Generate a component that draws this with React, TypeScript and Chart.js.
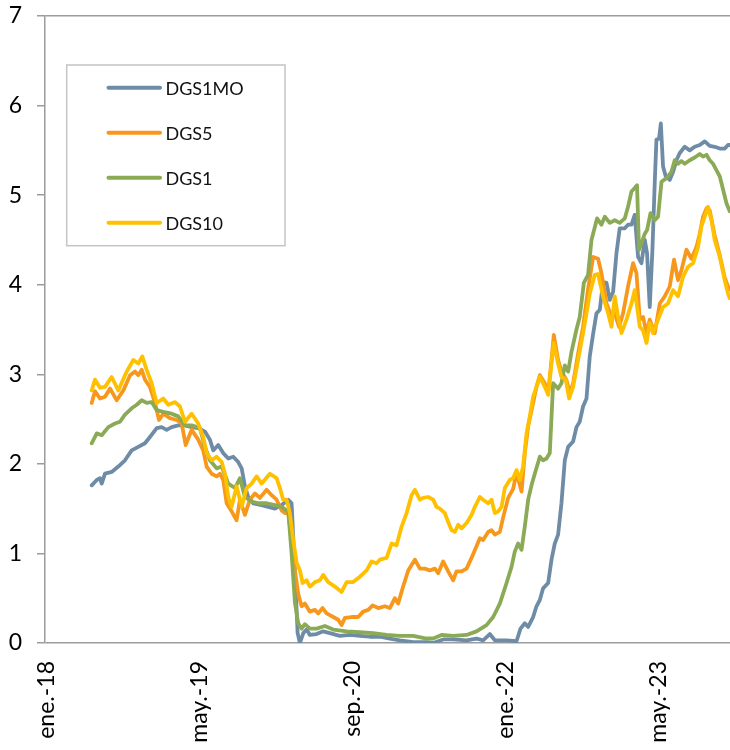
import React, { useEffect, useRef } from "react";
import { Chart, registerables } from "chart.js";

Chart.register(...registerables);

// x values: months elapsed since January 2018 (0 = ene.-18)
const TICK_MONTHS = [0, 16, 32, 48, 64];
const TICK_LABELS = ["ene.-18", "may.-19", "sep.-20", "ene.-22", "may.-23"];
const X_MIN = -0.16;
const X_MAX = 71.45;

const SERIES_LABELS = ["DGS1MO", "DGS5", "DGS1", "DGS10"];
const SERIES_COLORS = ["#6F8CA7", "#F7981D", "#8BAA55", "#FFC000"];

const DGS1MO: [number, number][] = [
  [4.72, 1.76], [5.25, 1.82], [5.59, 1.84], [5.77, 1.78], [6.11, 1.89], [6.81, 1.91], [7.5, 1.97], [8.2, 2.04],
  [8.9, 2.15], [9.59, 2.19], [10.29, 2.23], [10.81, 2.3], [11.52, 2.4], [12.04, 2.41], [12.56, 2.38], [13.08, 2.41],
  [13.77, 2.43], [14.47, 2.43], [15.17, 2.41], [15.86, 2.4], [16.56, 2.36], [17.08, 2.27], [17.43, 2.15], [17.95, 2.21],
  [18.47, 2.12], [19.0, 2.06], [19.52, 2.08], [20.04, 2.02], [20.4, 1.95], [20.74, 1.75], [21.09, 1.63], [21.61, 1.56],
  [22.49, 1.54], [23.18, 1.52], [23.88, 1.5], [24.58, 1.54], [25.27, 1.6], [25.62, 1.56], [25.97, 0.78], [26.25, 0.11],
  [26.49, 0.0], [26.84, 0.11], [27.19, 0.15], [27.53, 0.09], [28.23, 0.1], [28.92, 0.13], [29.62, 0.11], [30.66, 0.08],
  [31.71, 0.09], [32.76, 0.08], [33.8, 0.07], [34.85, 0.07], [35.89, 0.05], [36.94, 0.03], [38.33, 0.01], [39.73, 0.01],
  [40.42, 0.0], [41.46, 0.04], [42.51, 0.04], [43.91, 0.03], [44.95, 0.05], [45.64, 0.03], [46.34, 0.1], [46.87, 0.03],
  [48.09, 0.03], [49.13, 0.02], [49.55, 0.16], [50.0, 0.22], [50.35, 0.18], [50.87, 0.29], [51.22, 0.41], [51.57, 0.48],
  [51.91, 0.61], [52.44, 0.67], [52.79, 0.93], [53.13, 1.11], [53.48, 1.21], [53.83, 1.56], [54.18, 2.04], [54.53, 2.19],
  [55.05, 2.25], [55.4, 2.41], [55.74, 2.47], [56.09, 2.64], [56.45, 2.73], [56.79, 3.2], [57.14, 3.45], [57.49, 3.68],
  [57.84, 3.72], [58.18, 4.03], [58.54, 4.02], [58.88, 3.83], [59.23, 3.92], [59.58, 4.35], [59.92, 4.63], [60.45, 4.63],
  [60.79, 4.67], [61.15, 4.67], [61.49, 4.78], [61.84, 4.31], [62.19, 4.24], [62.54, 4.5], [62.78, 4.35], [63.06, 3.75],
  [63.34, 4.39], [63.58, 5.13], [63.76, 5.62], [64.03, 5.63], [64.22, 5.8], [64.45, 5.32], [64.73, 5.21], [65.15, 5.17],
  [65.5, 5.26], [65.85, 5.39], [66.2, 5.47], [66.72, 5.54], [67.24, 5.5], [67.76, 5.54], [68.29, 5.56], [68.81, 5.6],
  [69.33, 5.55], [69.85, 5.54], [70.38, 5.52], [70.9, 5.52], [71.24, 5.56], [71.42, 5.56],
];

const DGS5: [number, number][] = [
  [4.72, 2.68], [5.07, 2.81], [5.59, 2.73], [6.11, 2.75], [6.64, 2.84], [7.34, 2.71], [8.03, 2.82], [8.73, 2.99],
  [9.25, 3.03], [9.59, 2.99], [9.95, 3.05], [10.29, 2.94], [10.81, 2.86], [11.34, 2.68], [11.76, 2.49], [12.2, 2.56],
  [12.9, 2.51], [13.61, 2.49], [14.13, 2.45], [14.55, 2.21], [15.17, 2.38], [15.86, 2.27], [16.38, 2.15], [16.74, 1.97],
  [17.26, 1.89], [17.78, 1.86], [18.13, 1.89], [18.47, 1.82], [18.83, 1.56], [19.35, 1.47], [19.87, 1.37], [20.22, 1.6],
  [20.74, 1.43], [21.26, 1.6], [21.79, 1.67], [22.31, 1.62], [23.01, 1.71], [23.53, 1.65], [24.05, 1.6], [24.58, 1.48],
  [24.92, 1.45], [25.27, 1.45], [25.62, 1.15], [25.97, 0.81], [26.31, 0.55], [26.67, 0.41], [27.01, 0.44], [27.53, 0.35],
  [28.06, 0.37], [28.4, 0.33], [28.86, 0.39], [29.28, 0.33], [29.97, 0.29], [30.49, 0.26], [30.85, 0.2], [31.19, 0.28],
  [31.89, 0.29], [32.58, 0.29], [33.1, 0.35], [33.63, 0.37], [34.09, 0.42], [34.67, 0.39], [35.37, 0.41], [35.89, 0.39],
  [36.42, 0.5], [36.76, 0.44], [37.28, 0.63], [37.81, 0.81], [38.16, 0.87], [38.51, 0.93], [39.03, 0.83], [39.55, 0.83],
  [40.07, 0.81], [40.6, 0.83], [40.94, 0.78], [41.46, 0.91], [41.99, 0.8], [42.51, 0.7], [42.86, 0.8], [43.39, 0.8],
  [43.91, 0.83], [44.43, 0.95], [44.95, 1.08], [45.3, 1.17], [45.64, 1.15], [46.17, 1.24], [46.52, 1.26], [46.87, 1.21],
  [47.39, 1.24], [47.73, 1.4], [48.26, 1.62], [48.78, 1.72], [49.13, 1.9], [49.66, 1.69], [50.0, 2.12], [50.35, 2.42],
  [50.87, 2.68], [51.22, 2.86], [51.57, 2.99], [52.09, 2.9], [52.44, 2.79], [52.79, 3.16], [53.03, 3.44], [53.48, 3.16],
  [53.83, 3.03], [54.35, 2.94], [54.7, 2.79], [55.05, 2.9], [55.57, 3.23], [56.09, 3.53], [56.61, 3.95], [57.14, 4.31],
  [57.66, 4.29], [58.01, 4.13], [58.54, 3.79], [59.06, 3.64], [59.4, 3.68], [59.85, 3.53], [60.27, 3.68], [60.79, 3.98],
  [61.32, 4.24], [61.67, 4.13], [62.02, 3.61], [62.36, 3.64], [62.72, 3.46], [63.06, 3.61], [63.58, 3.46], [64.11, 3.79],
  [64.63, 3.87], [65.15, 3.98], [65.6, 4.28], [66.02, 4.05], [66.37, 4.16], [66.9, 4.39], [67.42, 4.29], [67.94, 4.42],
  [68.29, 4.57], [68.63, 4.76], [68.99, 4.85], [69.33, 4.83], [69.85, 4.55], [70.38, 4.33], [70.9, 4.08], [71.24, 3.98],
  [71.42, 3.95],
];

const DGS1: [number, number][] = [
  [4.72, 2.23], [5.25, 2.34], [5.77, 2.32], [6.46, 2.41], [7.16, 2.45], [7.68, 2.47], [8.2, 2.55], [8.9, 2.62],
  [9.43, 2.66], [9.95, 2.71], [10.47, 2.68], [10.99, 2.69], [11.52, 2.6], [12.2, 2.58], [13.08, 2.56], [13.77, 2.53],
  [14.47, 2.43], [15.17, 2.43], [16.04, 2.4], [16.56, 2.19], [17.08, 2.04], [17.78, 1.95], [18.31, 1.97], [19.0, 1.78],
  [19.7, 1.73], [20.22, 1.84], [20.74, 1.63], [21.44, 1.58], [22.13, 1.56], [23.01, 1.56], [23.88, 1.54], [24.58, 1.52],
  [25.1, 1.48], [25.27, 1.47], [25.62, 1.0], [25.97, 0.45], [26.31, 0.22], [26.67, 0.16], [27.01, 0.21], [27.53, 0.16],
  [28.23, 0.16], [29.1, 0.19], [29.97, 0.15], [31.37, 0.13], [32.76, 0.12], [34.15, 0.11], [35.55, 0.09], [36.94, 0.08],
  [38.33, 0.08], [39.73, 0.05], [40.42, 0.05], [41.3, 0.09], [42.51, 0.08], [43.91, 0.09], [44.95, 0.13], [46.0, 0.2],
  [46.69, 0.29], [47.39, 0.44], [48.09, 0.67], [48.61, 0.85], [48.95, 1.02], [49.3, 1.11], [49.66, 1.04], [50.0, 1.3],
  [50.35, 1.6], [50.7, 1.76], [51.04, 1.89], [51.57, 2.08], [51.91, 2.04], [52.27, 2.06], [52.61, 2.12], [52.96, 2.9],
  [53.48, 2.84], [53.83, 2.9], [54.18, 3.1], [54.53, 3.03], [54.88, 3.25], [55.4, 3.5], [55.74, 3.64], [56.17, 4.02],
  [56.61, 4.11], [56.97, 4.5], [57.14, 4.57], [57.55, 4.74], [58.01, 4.67], [58.36, 4.76], [58.88, 4.69], [59.4, 4.72],
  [59.92, 4.69], [60.45, 4.74], [60.79, 4.87], [61.15, 5.04], [61.49, 5.08], [61.73, 5.11], [61.94, 4.39], [62.19, 4.46],
  [62.54, 4.57], [62.78, 4.61], [63.14, 4.8], [63.58, 4.72], [63.93, 4.76], [64.29, 5.15], [64.81, 5.19], [65.33, 5.26],
  [65.67, 5.39], [66.02, 5.35], [66.37, 5.38], [66.72, 5.35], [67.24, 5.39], [67.76, 5.42], [68.29, 5.46], [68.63, 5.43],
  [68.99, 5.45], [69.33, 5.39], [69.68, 5.35], [70.03, 5.28], [70.38, 5.21], [70.73, 5.06], [71.08, 4.91], [71.42, 4.82],
];

const DGS10: [number, number][] = [
  [4.72, 2.82], [5.07, 2.94], [5.59, 2.85], [6.11, 2.86], [6.81, 2.97], [7.5, 2.82], [8.38, 3.03], [9.07, 3.16],
  [9.59, 3.12], [10.01, 3.2], [10.47, 3.05], [10.99, 2.9], [11.52, 2.68], [12.2, 2.73], [12.73, 2.66], [13.43, 2.69],
  [13.95, 2.64], [14.47, 2.47], [15.17, 2.56], [15.86, 2.45], [16.38, 2.3], [16.74, 2.12], [17.26, 2.04], [17.78, 2.08],
  [18.31, 2.02], [18.65, 1.89], [19.0, 1.63], [19.35, 1.52], [19.87, 1.75], [20.4, 1.52], [20.92, 1.73], [21.44, 1.78],
  [21.96, 1.86], [22.49, 1.78], [23.35, 1.89], [24.05, 1.84], [24.4, 1.73], [24.74, 1.6], [25.1, 1.6], [25.44, 1.45],
  [25.79, 1.15], [26.14, 0.9], [26.49, 0.81], [26.77, 0.67], [27.19, 0.7], [27.53, 0.63], [28.06, 0.68], [28.58, 0.7],
  [28.92, 0.76], [29.45, 0.68], [30.15, 0.63], [30.85, 0.57], [31.37, 0.68], [32.06, 0.68], [32.76, 0.74], [33.46, 0.81],
  [33.98, 0.91], [34.5, 0.89], [34.85, 0.93], [35.55, 0.95], [36.07, 1.11], [36.59, 1.09], [37.12, 1.3], [37.64, 1.45],
  [38.16, 1.65], [38.51, 1.71], [39.03, 1.6], [39.37, 1.62], [39.9, 1.63], [40.42, 1.6], [40.77, 1.52], [41.12, 1.5],
  [41.64, 1.45], [41.99, 1.35], [42.34, 1.26], [42.69, 1.24], [43.03, 1.32], [43.39, 1.28], [43.91, 1.34], [44.43, 1.43],
  [44.78, 1.52], [45.3, 1.63], [45.64, 1.6], [46.17, 1.56], [46.52, 1.6], [46.87, 1.45], [47.21, 1.47], [47.57, 1.52],
  [47.91, 1.73], [48.43, 1.82], [48.78, 1.84], [49.13, 1.93], [49.48, 1.82], [49.82, 1.97], [50.18, 2.34], [50.52, 2.53],
  [50.87, 2.75], [51.22, 2.86], [51.57, 2.97], [52.09, 2.86], [52.44, 2.77], [52.79, 3.12], [53.03, 3.35], [53.48, 3.12],
  [53.83, 2.97], [54.28, 2.94], [54.63, 2.73], [55.05, 2.86], [55.57, 3.16], [56.09, 3.46], [56.45, 3.68], [56.79, 3.9],
  [57.31, 4.11], [57.66, 4.12], [58.18, 3.87], [58.71, 3.68], [59.06, 3.53], [59.4, 3.87], [59.75, 3.64], [60.1, 3.46],
  [60.63, 3.61], [61.15, 3.79], [61.49, 3.94], [62.02, 3.53], [62.36, 3.49], [62.72, 3.35], [63.06, 3.57], [63.41, 3.46],
  [63.93, 3.61], [64.45, 3.75], [64.97, 3.79], [65.5, 3.94], [66.02, 3.87], [66.54, 4.09], [67.06, 4.2], [67.59, 4.24],
  [68.11, 4.42], [68.46, 4.65], [68.81, 4.76], [69.15, 4.87], [69.51, 4.72], [69.85, 4.5], [70.38, 4.31], [70.9, 4.05],
  [71.24, 3.9], [71.42, 3.85],
];

const SERIES_DATA = [DGS1MO, DGS5, DGS1, DGS10];
const DRAW_ORDER = [4, 3, 2, 1];

const AXIS_GRAY = "#9C9C9C";
const FONT = "Lato, 'Open Sans', sans-serif";

const legendPlugin = {
  id: "boxLegend",
  afterDraw(chart: any) {
    const { ctx, chartArea } = chart;
    const left = chartArea.left;
    const top = chartArea.top;
    ctx.save();
    const bx = left + 21.7;
    const by = top + 49;
    const bw = 218.3;
    const bh = 180.7;
    ctx.fillStyle = "#FFFFFF";
    ctx.fillRect(bx, by, bw, bh);
    ctx.strokeStyle = "#C4C4C4";
    ctx.lineWidth = 1.5;
    ctx.strokeRect(bx, by, bw, bh);
    ctx.font = `18px ${FONT}`;
    ctx.textBaseline = "middle";
    ctx.textAlign = "left";
    chart.data.datasets.forEach((ds: any, i: number) => {
      const y = top + 71.7 + i * 45;
      ctx.strokeStyle = ds.borderColor;
      ctx.lineWidth = 4;
      ctx.lineCap = "round";
      ctx.beginPath();
      ctx.moveTo(left + 63.5, y);
      ctx.lineTo(left + 115, y);
      ctx.stroke();
      ctx.fillStyle = "#111111";
      ctx.fillText(ds.label, left + 120.5, y + 1);
    });
    ctx.restore();
  },
};

export default function App() {
  const canvasRef = useRef<HTMLCanvasElement | null>(null);

  useEffect(() => {
    if (!canvasRef.current) return;
    const chart = new Chart(canvasRef.current, {
      type: "line",
      data: {
        datasets: SERIES_LABELS.map((label, i) => ({
          label,
          data: SERIES_DATA[i].map(([x, y]) => ({ x, y })),
          borderColor: SERIES_COLORS[i],
          backgroundColor: SERIES_COLORS[i],
          borderWidth: 3.8,
          pointRadius: 0,
          tension: 0,
          fill: false,
          borderJoinStyle: "round" as const,
          borderCapStyle: "round" as const,
          order: DRAW_ORDER[i],
        })),
      },
      options: {
        animation: false,
        responsive: false,
        layout: { padding: { top: 16, right: 0, bottom: 0, left: 0 } },
        plugins: {
          legend: { display: false },
          tooltip: { enabled: false },
        },
        scales: {
          x: {
            type: "linear",
            min: X_MIN,
            max: X_MAX,
            afterBuildTicks: (scale: any) => {
              scale.ticks = TICK_MONTHS.map((v) => ({ value: v }));
            },
            afterFit: (scale: any) => {
              scale.height = 107;
            },
            ticks: {
              autoSkip: false,
              minRotation: 90,
              maxRotation: 90,
              padding: 18,
              color: "#000000",
              font: { family: FONT, size: 23 },
              callback: (_v: any, index: number) => TICK_LABELS[index],
            },
            grid: { display: false, drawTicks: false },
            border: { display: false },
          },
          y: {
            min: 0,
            max: 7,
            afterFit: (scale: any) => {
              scale.width = 45;
              scale.paddingTop = 0;
              scale.paddingBottom = 0;
            },
            ticks: {
              stepSize: 1,
              padding: 15,
              color: "#000000",
              font: { family: FONT, size: 23 },
            },
            grid: {
              color: (c: any) =>
                c.tick && (c.tick.value === 0 || c.tick.value === 7) ? AXIS_GRAY : "rgba(0,0,0,0)",
              tickColor: AXIS_GRAY,
              tickLength: 8,
              lineWidth: 1.5,
              tickWidth: 1.5,
            },
            border: { display: true, color: AXIS_GRAY, width: 1.5 },
          },
        },
      },
      plugins: [legendPlugin],
    });
    return () => chart.destroy();
  }, []);

  return (
    <div style={{ position: "absolute", left: 0, top: 0, width: 730, height: 750, background: "#fff" }}>
      <canvas ref={canvasRef} width={730} height={750} style={{ width: 730, height: 750 }} />
    </div>
  );
}
